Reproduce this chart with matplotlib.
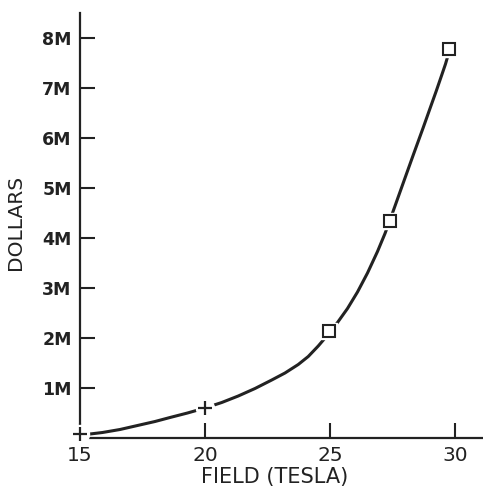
import matplotlib.pyplot as plt

# points
curve_x = [15.4, 15.9, 16.6, 17.3, 18.0, 18.6, 19.3, 20.0, 20.67, 21.33, 22.0, 22.67,
           23.2, 23.73, 24.13, 24.53, 24.94, 25.3, 25.7, 26.1, 26.5, 26.9,
           27.2, 27.4, 27.6, 28.0, 28.33, 28.73, 29.0, 29.25, 29.47, 29.62, 29.76]
curve_y = [0.08, 0.11, 0.17, 0.25, 0.33, 0.41, 0.50, 0.60, 0.71, 0.84, 0.99, 1.16,
           1.30, 1.47, 1.63, 1.84, 2.08, 2.31, 2.59, 2.92, 3.30, 3.73,
           4.09, 4.36, 4.64, 5.20, 5.66, 6.21, 6.59, 6.94, 7.26, 7.48, 7.72]

# marked points
plus_x = [15.0, 20.0]
plus_y = [0.08, 0.60]
square_x = [24.94, 27.4, 29.76]
square_y = [2.14, 4.34, 7.78]

ytick_vals = [1, 2, 3, 4, 5, 6, 7, 8]
ytick_labels = ['1M', '2M', '3M', '4M', '5M', '6M', '7M', '8M']
xtick_vals = [15, 20, 25, 30]

ink = '#222222'

fig = plt.figure(figsize=(4.83, 4.87), dpi=100)
ax = fig.add_axes([80 / 483, 49 / 487, 403 / 483, 425 / 487])

ax.plot(curve_x, curve_y, color=ink, lw=2.2, solid_joinstyle='round',
        solid_capstyle='round', zorder=2)
# white halo so the line breaks at the markers
ax.plot(plus_x, plus_y, ls='none', marker='o', ms=13,
        mfc='white', mec='white', zorder=3)
ax.plot(square_x, square_y, ls='none', marker='s', ms=11,
        mfc='white', mec='white', zorder=3)
ax.plot(plus_x, plus_y, ls='none', marker='+', ms=10, mew=1.6, color=ink, zorder=4)
ax.plot(square_x, square_y, ls='none', marker='s', ms=8.8, mew=1.5,
        mfc='white', mec=ink, zorder=4)

ax.set_xlim(15, 31.12)
ax.set_ylim(0, 8.5)
for s in ['top', 'right']:
    ax.spines[s].set_visible(False)
for s in ['left', 'bottom']:
    ax.spines[s].set_color(ink)
    ax.spines[s].set_linewidth(1.6)

ax.set_xticks(xtick_vals)
ax.set_yticks(ytick_vals)
ax.set_yticklabels(ytick_labels)
ax.tick_params(axis='both', direction='in', length=11, width=1.5, color=ink,
               labelcolor=ink)
ax.tick_params(axis='y', pad=6, labelsize=12.5)
ax.tick_params(axis='x', pad=6, labelsize=14.5)
for lab in ax.get_yticklabels():
    lab.set_fontweight('bold')

ax.set_xlabel('FIELD (TESLA)', fontsize=15, color=ink)
ax.xaxis.set_label_coords(0.484, -0.068)
ax.set_ylabel('DOLLARS', fontsize=14.5, color=ink)
ax.yaxis.set_label_coords(-0.136, 0.508)
for line in ax.lines:
    line.set_clip_on(False)

fig.savefig('out.png', dpi=100)
